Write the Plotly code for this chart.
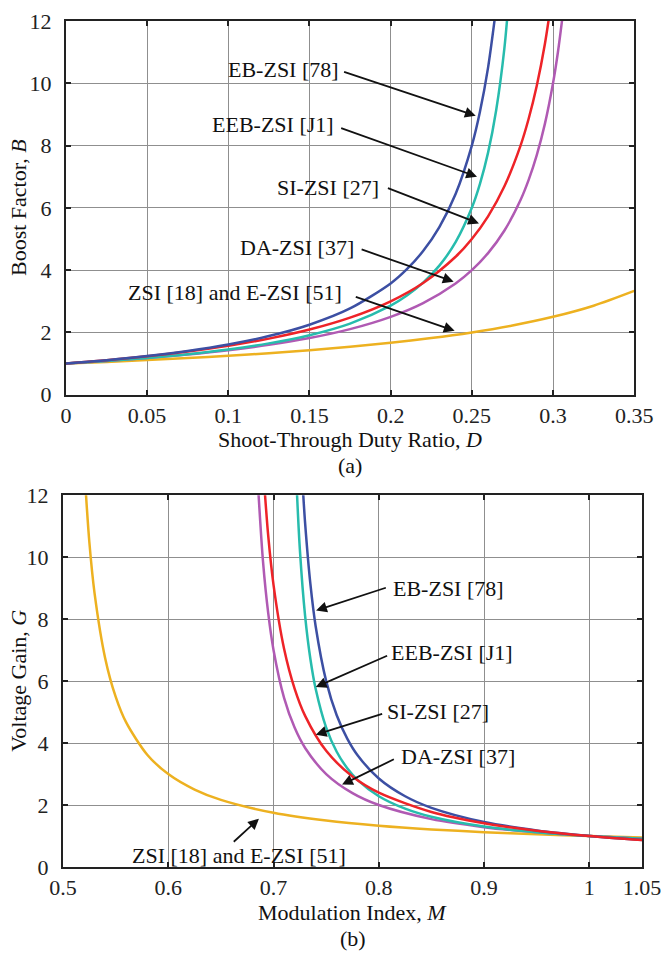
import plotly.graph_objects as go

# ---------------- (a) Boost factor vs shoot-through duty ratio ----------------
d_zsi = [0, 0.025, 0.05, 0.075, 0.1, 0.125, 0.15, 0.175, 0.2, 0.225, 0.25, 0.275, 0.3, 0.325, 0.35]
b_zsi = [1, 1.0526, 1.1111, 1.1765, 1.25, 1.3333, 1.4286, 1.5385, 1.6667, 1.8182, 2.0, 2.2222, 2.5, 2.8571, 3.3333]

d_da = [0, 0.025, 0.05, 0.075, 0.1, 0.125, 0.15, 0.175, 0.2, 0.22, 0.24, 0.25, 0.26, 0.27, 0.28, 0.285, 0.29, 0.295, 0.3, 0.303, 0.306]
b_da = [1, 1.0811, 1.1765, 1.2903, 1.4286, 1.6, 1.8182, 2.1053, 2.5, 2.9412, 3.5714, 4.0, 4.5455, 5.2632, 6.25, 6.8966, 7.6923, 8.6957, 10.0, 10.989, 12.195]

d_si = [0, 0.025, 0.05, 0.075, 0.1, 0.125, 0.15, 0.175, 0.2, 0.22, 0.24, 0.25, 0.26, 0.27, 0.28, 0.285, 0.29, 0.295, 0.3]
b_si = [1, 1.1081, 1.2353, 1.3871, 1.5714, 1.8, 2.0909, 2.4737, 3.0, 3.5882, 4.4286, 5.0, 5.7273, 6.6842, 8.0, 8.8621, 9.9231, 11.261, 13.0]

d_eb = [0, 0.025, 0.05, 0.075, 0.1, 0.125, 0.15, 0.175, 0.2, 0.21, 0.22, 0.23, 0.24, 0.25, 0.255, 0.26, 0.265]
b_eb = [1, 1.1096, 1.2422, 1.406, 1.6129, 1.8824, 2.2472, 2.7682, 3.5714, 4.029, 4.6125, 5.3821, 6.4433, 8.0, 9.0868, 10.504, 12.43]

d_eeb = [0, 0.025, 0.05, 0.075, 0.1, 0.125, 0.15, 0.175, 0.2, 0.21, 0.22, 0.23, 0.24, 0.25, 0.255, 0.26, 0.265, 0.27, 0.275]
b_eeb = [1, 1.0819, 1.1801, 1.3006, 1.4516, 1.6471, 1.9101, 2.2838, 2.8571, 3.1829, 3.5978, 4.1442, 4.8969, 6.0, 6.7697, 7.773, 9.1361, 11.094, 14.146]

# ---------------- (b) Voltage gain vs modulation index ----------------
m_zsi = [0.52, 0.525, 0.53, 0.54, 0.55, 0.56, 0.58, 0.6, 0.625, 0.65, 0.7, 0.75, 0.8, 0.85, 0.9, 0.95, 1.0, 1.05]
g_zsi = [13.0, 10.5, 8.8333, 6.75, 5.5, 4.6667, 3.625, 3.0, 2.5, 2.1667, 1.75, 1.5, 1.3333, 1.2143, 1.125, 1.0556, 1.0, 0.9545]

m_da = [0.685, 0.69, 0.695, 0.7, 0.71, 0.72, 0.73, 0.75, 0.775, 0.8, 0.85, 0.9, 0.95, 1.0, 1.05]
g_da = [12.4545, 9.8571, 8.1765, 7.0, 5.4615, 4.5, 3.8421, 3.0, 2.3846, 2.0, 1.5455, 1.2857, 1.1176, 1.0, 0.913]

m_si = [0.69, 0.695, 0.7, 0.71, 0.72, 0.73, 0.75, 0.775, 0.8, 0.85, 0.9, 0.95, 1.0, 1.05]
g_si = [12.913, 10.67, 9.1, 7.0454, 5.76, 4.8795, 3.75, 2.9212, 2.4, 1.7773, 1.4143, 1.1735, 1.0, 0.8674]

m_eb = [0.728, 0.73, 0.735, 0.74, 0.75, 0.76, 0.77, 0.78, 0.8, 0.825, 0.85, 0.9, 0.95, 1.0, 1.05]
g_eb = [12.14, 11.094, 9.1361, 7.7731, 6.0, 4.8969, 4.1442, 3.5978, 2.8571, 2.2837, 1.9101, 1.4516, 1.1801, 1.0, 0.8714]

m_eeb = [0.722, 0.725, 0.73, 0.735, 0.74, 0.75, 0.76, 0.77, 0.78, 0.8, 0.825, 0.85, 0.9, 0.95, 1.0, 1.05]
g_eeb = [12.246, 10.256, 8.0988, 6.7151, 5.7521, 4.5, 3.7216, 3.1911, 2.8063, 2.2857, 1.8841, 1.6236, 1.3065, 1.1211, 1.0, 0.9149]

# tick labels
xa_vals = [0, 0.05, 0.1, 0.15, 0.2, 0.25, 0.3, 0.35]
xa_text = ["0", "0.05", "0.1", "0.15", "0.2", "0.25", "0.3", "0.35"]
xb_vals = [0.5, 0.6, 0.7, 0.8, 0.9, 1.0, 1.05]
xb_text = ["0.5", "0.6", "0.7", "0.8", "0.9", "1", "1.05"]
y_vals = [0, 2, 4, 6, 8, 10, 12]
y_text = ["0", "2", "4", "6", "8", "10", "12"]

C_YEL = "#EDB120"
C_MAG = "#B05AB3"
C_RED = "#EE2328"
C_BLU = "#3C4FA3"
C_TEA = "#27BCAD"

FONT = "Palatino Linotype, Book Antiqua, Liberation Serif, serif"
FS = 22
LW = 2.5

fig = go.Figure()
sm = 0.8
top = [(d_zsi, b_zsi, C_YEL, "ZSI"), (d_da, b_da, C_MAG, "DA-ZSI"), (d_eeb, b_eeb, C_TEA, "EEB-ZSI"),
       (d_si, b_si, C_RED, "SI-ZSI"), (d_eb, b_eb, C_BLU, "EB-ZSI")]
for xs, ys, c, n in top:
    fig.add_trace(go.Scatter(x=xs, y=ys, mode="lines", name=n, showlegend=False,
                             line=dict(color=c, width=LW, shape="spline", smoothing=sm),
                             xaxis="x", yaxis="y"))
bot = [(m_zsi, g_zsi, C_YEL, "ZSI"), (m_da, g_da, C_MAG, "DA-ZSI"), (m_eeb, g_eeb, C_TEA, "EEB-ZSI"),
       (m_eb, g_eb, C_BLU, "EB-ZSI"), (m_si, g_si, C_RED, "SI-ZSI")]
for xs, ys, c, n in bot:
    fig.add_trace(go.Scatter(x=xs, y=ys, mode="lines", name=n, showlegend=False,
                             line=dict(color=c, width=LW, shape="spline", smoothing=sm),
                             xaxis="x2", yaxis="y2"))

GRID = "#8f8f8f"
axis_common = dict(showgrid=True, gridcolor=GRID, gridwidth=1, zeroline=False,
                   showline=True, linecolor="#222222", linewidth=2, mirror="ticks",
                   ticks="inside", ticklen=5, tickwidth=2, tickcolor="#222222",
                   tickfont=dict(family=FONT, size=FS, color="#222222"))

fig.update_layout(
    width=670, height=954,
    margin=dict(l=63, r=13, t=9, b=87),
    paper_bgcolor="white", plot_bgcolor="white",
    xaxis=dict(domain=[0.00505, 0.9865], range=[0, 0.35], anchor="y",
               tickvals=xa_vals, ticktext=xa_text, ticklabelstandoff=0, **axis_common),
    yaxis=dict(domain=[0.5583, 1.0], range=[0, 12], anchor="x",
               tickvals=y_vals, ticktext=y_text, ticklabelstandoff=8, **axis_common),
    xaxis2=dict(domain=[0, 1], range=[0.5, 1.05], anchor="y2",
                tickvals=xb_vals, ticktext=xb_text, ticklabelstandoff=0, **axis_common),
    yaxis2=dict(domain=[0, 0.4394], range=[0, 12], anchor="x2",
                tickvals=y_vals, ticktext=y_text, ticklabelstandoff=8, **axis_common),
)

ann = []
TF = dict(family=FONT, size=FS, color="#111111")

def arrow(xr, yr, tipx, tipy, tailx, taily):
    ann.append(dict(xref=xr, yref=yr, axref=xr, ayref=yr, x=tipx, y=tipy, ax=tailx, ay=taily,
                    text="", showarrow=True, arrowhead=2, arrowsize=1.2, arrowwidth=1.8,
                    arrowcolor="#111111"))

def label(xr, yr, x, y, t, anchor):
    ann.append(dict(xref=xr, yref=yr, x=x, y=y, text=t, showarrow=False,
                    xanchor=anchor, yanchor="middle", font=TF))

# top labels (text right edge, arrow tail -> tip)
label("x", "y", 0.1692, 10.44, "EB-ZSI [78]", "right")
arrow("x", "y", 0.2524, 8.96, 0.1704, 10.38)
label("x", "y", 0.1664, 8.67, "EEB-ZSI [J1]", "right")
arrow("x", "y", 0.2532, 7.0, 0.1686, 8.58)
label("x", "y", 0.1938, 6.64, "SI-ZSI [27]", "right")
arrow("x", "y", 0.2544, 5.5, 0.1974, 6.65)
label("x", "y", 0.1784, 4.72, "DA-ZSI [37]", "right")
arrow("x", "y", 0.2388, 3.63, 0.1812, 4.68)
label("x", "y", 0.1714, 3.28, "ZSI [18] and E-ZSI [51]", "right")
arrow("x", "y", 0.2394, 2.05, 0.1776, 3.16)

# bottom labels
label("x2", "y2", 0.8120, 8.98, "EB-ZSI [78]", "left")
arrow("x2", "y2", 0.7404, 8.28, 0.8081, 9.03)
label("x2", "y2", 0.8099, 6.91, "EEB-ZSI [J1]", "left")
arrow("x2", "y2", 0.7401, 5.81, 0.8093, 6.84)
label("x2", "y2", 0.8058, 5.02, "SI-ZSI [27]", "left")
arrow("x2", "y2", 0.7401, 4.27, 0.8046, 4.96)
label("x2", "y2", 0.8192, 3.56, "DA-ZSI [37]", "left")
arrow("x2", "y2", 0.7651, 2.66, 0.8157, 3.50)
label("x2", "y2", 0.6676, 0.38, "ZSI [18] and E-ZSI [51]", "center")
arrow("x2", "y2", 0.6861, 1.56, 0.6608, 0.77)

# axis titles and captions
def ptext(x, y, t, angle=0):
    ann.append(dict(xref="paper", yref="paper", x=x, y=y, text=t, showarrow=False,
                    xanchor="center", yanchor="middle", textangle=angle, font=TF))

ptext(0.4965, 0.5055, "Shoot-Through Duty Ratio, <i>D</i>")
ptext(0.4965, 0.4745, "(a)")
ptext(0.5, -0.0536, "Modulation Index, <i>M</i>")
ptext(0.5, -0.0851, "(b)")
ptext(-0.0758, 0.7791, "Boost Factor, <i>B</i>", -90)
ptext(-0.0758, 0.2203, "Voltage Gain, <i>G</i>", -90)

fig.update_layout(annotations=ann)
fig.write_html("out.html")
